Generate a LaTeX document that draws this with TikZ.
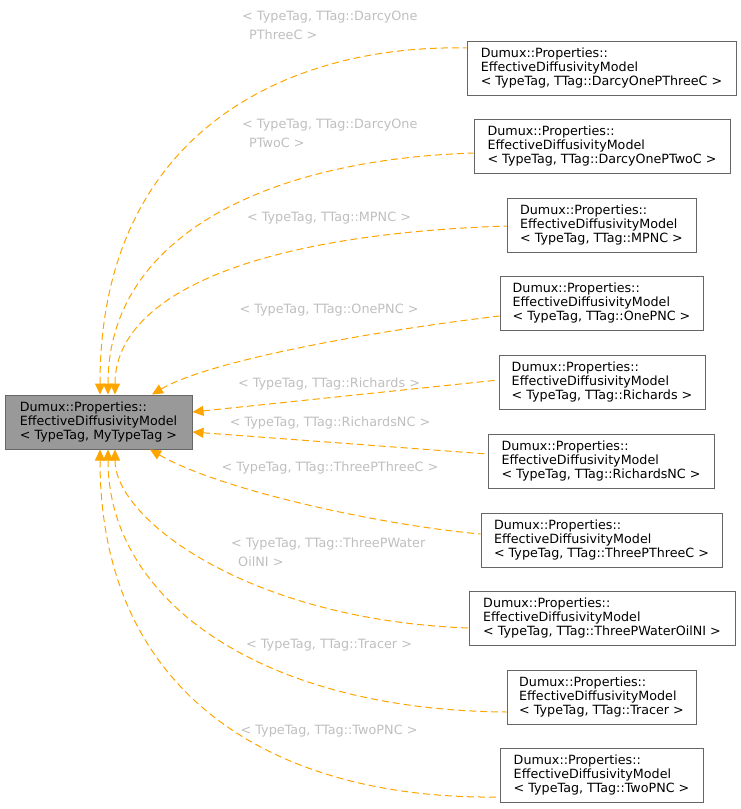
\documentclass[tikz,border=0pt]{standalone}
\usepackage{fontspec}
\setmainfont{DejaVu Sans}
\usepackage{tikz}
\usetikzlibrary{arrows.meta, positioning, calc}
\definecolor{edgeorange}{RGB}{255,165,0}
\definecolor{boxgray}{RGB}{102,102,102}
\definecolor{basefill}{RGB}{153,153,153}
\definecolor{taggray}{RGB}{191,191,191}
\tikzset{
  classbox/.style={draw=boxgray, fill=white, line width=1pt, align=left, minimum height=54pt, inner sep=0pt, font=\fontsize{12.7}{14.3}\selectfont},
  basebox/.style={classbox, fill=basefill},
  inherit/.style={draw=edgeorange, line width=1pt, dash pattern=on 7pt off 4pt, {Triangle[length=11pt,width=10pt]}-},
  taglabel/.style={text=taggray, align=left, inner sep=0pt, font=\fontsize{12.8}{19}\selectfont}
}
\begin{document}
\begin{tikzpicture}[x=1pt, y=-1pt]
\useasboundingbox (0,0) rectangle (741,809);
% base class
\node[basebox, minimum width=187pt] (base) at (98.5,422) {Dumux::Properties::\\EffectiveDiffusivityModel\\< TypeTag, MyTypeTag >};
% specialisations
\node[classbox, minimum width=269pt] (darcy3c) at (601.5,68) {Dumux::Properties::\\EffectiveDiffusivityModel\\< TypeTag, TTag::DarcyOnePThreeC >};
\node[classbox, minimum width=256pt] (darcy2c) at (602,146) {Dumux::Properties::\\EffectiveDiffusivityModel\\< TypeTag, TTag::DarcyOnePTwoC >};
\node[classbox, minimum width=189pt] (mpnc) at (601.5,225) {Dumux::Properties::\\EffectiveDiffusivityModel\\< TypeTag, TTag::MPNC >};
\node[classbox, minimum width=203pt] (onepnc) at (601.5,303) {Dumux::Properties::\\EffectiveDiffusivityModel\\< TypeTag, TTag::OnePNC >};
\node[classbox, minimum width=206pt] (richards) at (602,382) {Dumux::Properties::\\EffectiveDiffusivityModel\\< TypeTag, TTag::Richards >};
\node[classbox, minimum width=226pt] (richardsnc) at (601,461) {Dumux::Properties::\\EffectiveDiffusivityModel\\< TypeTag, TTag::RichardsNC >};
\node[classbox, minimum width=241pt] (threep3c) at (601.5,540) {Dumux::Properties::\\EffectiveDiffusivityModel\\< TypeTag, TTag::ThreePThreeC >};
\node[classbox, minimum width=266pt] (threepwo) at (602,618) {Dumux::Properties::\\EffectiveDiffusivityModel\\< TypeTag, TTag::ThreePWaterOilNI >};
\node[classbox, minimum width=189pt] (tracer) at (601.5,697) {Dumux::Properties::\\EffectiveDiffusivityModel\\< TypeTag, TTag::Tracer >};
\node[classbox, minimum width=203pt] (twopnc) at (601.5,775) {Dumux::Properties::\\EffectiveDiffusivityModel\\< TypeTag, TTag::TwoPNC >};
% inheritance edges
\draw[inherit] ([xshift=1.5pt]base.north) .. controls (100,130) and (290,44) .. ([yshift=20pt]darcy3c.west);
\draw[inherit] ([xshift=9.5pt]base.north) .. controls (108,240) and (260,160) .. ([yshift=-7pt]darcy2c.west);
\draw[inherit] ([xshift=16.5pt]base.north) .. controls (115,300) and (240,235) .. ([yshift=-1pt]mpnc.west);
\draw[inherit] ([xshift=53.5pt]base.north) .. controls (210,360) and (380,330) .. ([yshift=-13pt]onepnc.west);
\draw[inherit] ([yshift=10pt]base.east) -- ([yshift=2pt]richards.west);
\draw[inherit] ([yshift=-10pt]base.east) -- ([yshift=7pt]richardsnc.west);
\draw[inherit] ([xshift=51.5pt]base.south) .. controls (220,490) and (380,525) .. ([yshift=6pt]threep3c.west);
\draw[inherit] ([xshift=16.5pt]base.south) .. controls (115,520) and (250,620) .. ([yshift=-10pt]threepwo.west);
\draw[inherit] ([xshift=9.5pt]base.south) .. controls (108,600) and (260,710) .. ([yshift=-15pt]tracer.west);
\draw[inherit] ([xshift=1.5pt]base.south) .. controls (100,700) and (280,800) .. ([yshift=-22pt]twopnc.west);
% template argument labels
\node[taglabel, anchor=west] (ldarcy3c) at (242,25.5) {< TypeTag, TTag::DarcyOne\\\hspace*{7pt}PThreeC >};
\node[taglabel, anchor=west] (ldarcy2c) at (242,133.5) {< TypeTag, TTag::DarcyOne\\\hspace*{7pt}PTwoC >};
\node[taglabel] (lmpnc) at (329,218) {< TypeTag, TTag::MPNC >};
\node[taglabel] (lonepnc) at (329,310) {< TypeTag, TTag::OnePNC >};
\node[taglabel] (lrichards) at (329,384) {< TypeTag, TTag::Richards >};
\node[taglabel] (lrichardsnc) at (330,423) {< TypeTag, TTag::RichardsNC >};
\node[taglabel] (lthreep3c) at (330,468) {< TypeTag, TTag::ThreePThreeC >};
\node[taglabel, anchor=west] (lthreepwo) at (231,552.5) {< TypeTag, TTag::ThreePWater\\\hspace*{7pt}OilNI >};
\node[taglabel] (ltracer) at (329,645) {< TypeTag, TTag::Tracer >};
\node[taglabel] (ltwopnc) at (329,731) {< TypeTag, TTag::TwoPNC >};
\end{tikzpicture}
\end{document}
